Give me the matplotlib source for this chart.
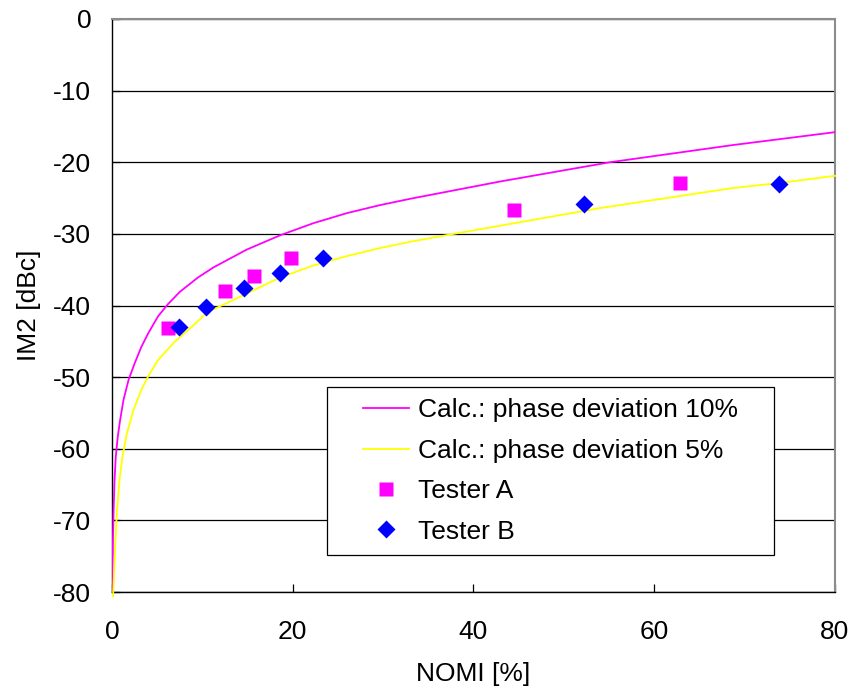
import matplotlib
matplotlib.use("Agg")
import matplotlib.pyplot as plt
from matplotlib.patches import Rectangle

plt.rcParams['font.family'] = ['Liberation Sans', 'DejaVu Sans']
plt.rcParams['axes.unicode_minus'] = False

# calc. curve, phase deviation 10%
nomi_10 = [0.02, 0.09, 0.17, 0.28, 0.42, 0.64, 0.9, 1.27, 1.83, 2.5, 3.24, 4.0, 5.1,
           6.2, 7.5, 9.5, 11.2, 14.9, 18.6, 22.3, 26.0, 29.6, 33.0, 42.9, 55.1, 68.7, 80]
im2_10 = [-80, -73.7, -69.0, -64.4, -61.1, -58.3, -56.0, -53.2, -50.4, -48.1, -45.8, -43.9, -41.5,
          -39.8, -38.1, -36.1, -34.7, -32.2, -30.2, -28.5, -27.1, -26.0, -25.1, -22.7, -20.0, -17.6, -15.8]

# calc. curve, phase deviation 5%
nomi_5 = [0.12, 0.35, 0.53, 0.83, 1.16, 1.64, 2.38, 2.8, 3.24, 4.0, 5.1, 6.9, 8.8,
          10.6, 13.8, 18.6, 22.3, 26.0, 29.6, 33.0, 37.8, 45.0, 54.0, 68.7, 73.8, 80]
im2_5 = [-80.6, -73.7, -69.0, -64.4, -61.1, -57.9, -54.6, -53.2, -51.8, -49.9, -47.6, -45.1, -43.0,
         -40.9, -39.0, -36.1, -34.4, -33.1, -32.0, -31.1, -30.0, -28.4, -26.4, -23.6, -22.9, -21.9]

# measurements
nomi_a = [6.2, 12.5, 15.7, 19.8, 44.5, 62.9]
im2_a = [-43.1, -38.0, -35.9, -33.4, -26.7, -22.9]

nomi_b = [7.4, 10.4, 14.6, 18.6, 23.4, 52.2, 73.8]
im2_b = [-43.0, -40.2, -37.6, -35.5, -33.4, -25.8, -23.0]

fig = plt.figure(figsize=(8.49, 6.93), dpi=100)
ax = fig.add_axes([0.1319, 0.1457, 0.8516, 0.8269])

ax.plot(nomi_10, im2_10, color='#FF00FF', lw=1.3, label='Calc.: phase deviation 10%', zorder=3)
ax.plot(nomi_5, im2_5, color='#FFFF00', lw=1.3, label='Calc.: phase deviation 5%', zorder=3,
        clip_on=False)
ax.plot(nomi_a, im2_a, 's', color='#FF00FF', ms=9.4, mec='none', label='Tester A', zorder=4)
ax.plot(nomi_b, im2_b, 'D', color='#0000FF', ms=9.4, mec='none', label='Tester B', zorder=4)

ax.set_xlim(0, 80)
ax.set_ylim(-80, 0)
ax.set_xticks([0, 20, 40, 60, 80])
ax.set_yticks(range(-80, 1, 10))
ax.yaxis.grid(True, color='black', lw=0.9)
ax.set_axisbelow(True)

ax.tick_params(direction='in', length=6, width=0.9, labelsize=19, color='black')
ax.tick_params(axis='x', pad=20)
ax.tick_params(axis='y', pad=15)

for s in ['left', 'bottom']:
    ax.spines[s].set_color('black')
    ax.spines[s].set_linewidth(1.0)
for s in ['top', 'right']:
    ax.spines[s].set_color('#8c8c8c')
    ax.spines[s].set_linewidth(1.5)

ax.set_xlabel('NOMI [%]', fontsize=19, labelpad=13)
ax.set_ylabel('IM2 [dBc]', fontsize=19, labelpad=9)

# legend box
box = Rectangle((0.2974, 0.0646), 0.6183, 0.2932, transform=ax.transAxes,
                facecolor='white', edgecolor='black', lw=0.9, zorder=4.5)
ax.add_patch(box)
leg = ax.legend(loc='center', bbox_to_anchor=(0.6065, 0.2112), frameon=False,
                fontsize=19, labelspacing=0.62, handlelength=1.75, handletextpad=0.35,
                borderpad=0.2)
leg.set_zorder(5)

fig.savefig('out.png', dpi=100)
